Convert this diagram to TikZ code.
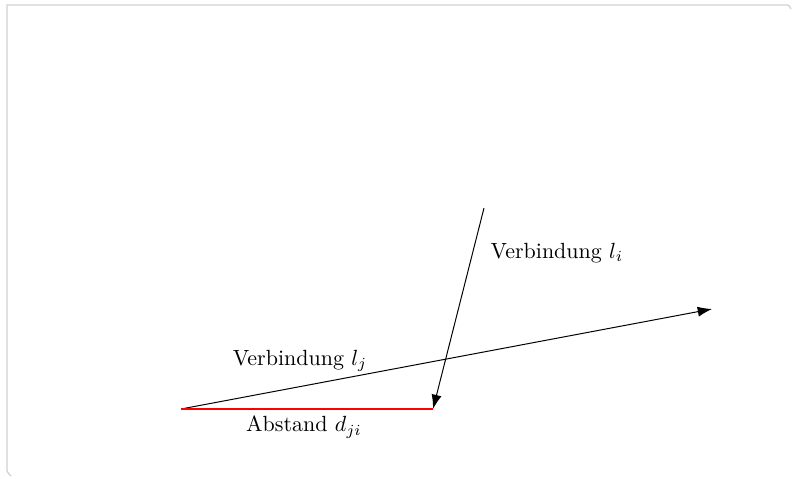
\documentclass[tikz,border=0pt]{standalone}
\usetikzlibrary{arrows.meta,positioning}

\begin{document}
\begin{tikzpicture}[
    x=0.455pt, y=-0.455pt,
    link/.style={-{Latex[length=6.5pt,width=4.6pt]}, black, line width=0.45pt},
    abstand/.style={draw=red, line width=0.5pt},
    label/.style={inner sep=1pt},
    frame/.style={black!18, line width=0.6pt},
]
\useasboundingbox (0,0) rectangle (794,478);

% Frame
\draw[frame] (11,476) .. controls (7,472) .. (7,467) -- (7,5) -- (785,5)
    .. controls (789,5) .. (791,9);

% Points
\coordinate (pj) at (181,409);
\coordinate (qj) at (712,309);
\coordinate (pi) at (484,208);
\coordinate (qi) at (433,409);

% Connections
\draw[link] (pj) -- (qj);
\draw[link] (pi) -- (qi);
\draw[abstand] (pj) -- (qi);

% Labels
\node[label, anchor=west] (li) at (488,253) {Verbindung $l_i$};
\node[label] (lj) at (300,361) {Verbindung $l_j$};
\node[label] (dji) at (304,427) {Abstand $d_{ji}$};

\end{tikzpicture}
\end{document}
